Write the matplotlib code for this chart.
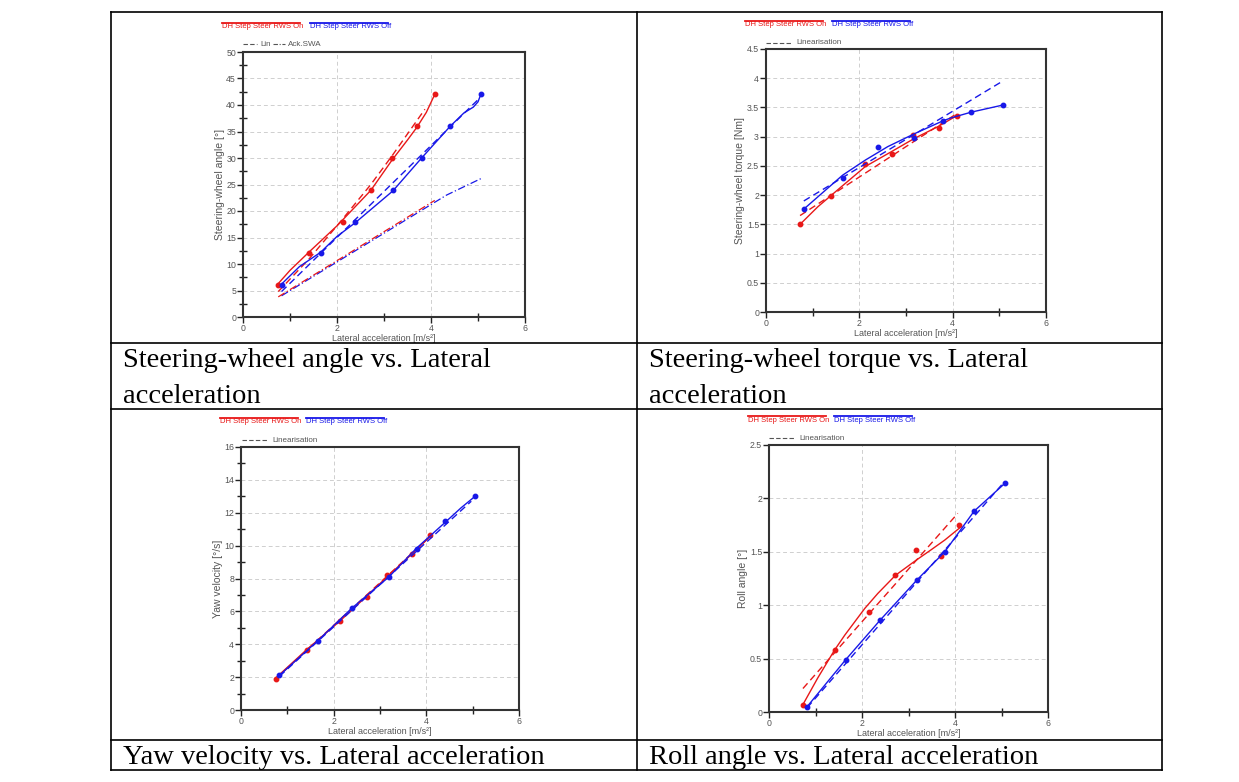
import numpy as np
import matplotlib
matplotlib.use('Agg')
import matplotlib.pyplot as plt
from matplotlib.lines import Line2D
from matplotlib.ticker import MultipleLocator, FormatStrFormatter

W, H = 1239, 782
RED = '#e81818'
BLUE = '#1818e8'

# ---- Steering-wheel angle ----
swa_ay_on = [0.75, 1.41, 2.13, 2.72, 3.17, 3.70, 4.08]
swa_on = [6, 12, 18, 24, 30, 36, 42]
swa_ay_off = [0.82, 1.65, 2.39, 3.19, 3.80, 4.41, 5.06]
swa_off = [6, 12, 18, 24, 30, 36, 42]
swa_fit_x_on = [0.75, 1.0, 1.41, 2.0, 2.72, 3.17, 3.5, 3.70, 3.9, 4.08]
swa_fit_on = [6.3, 8.8, 12.3, 17.2, 23.9, 29.6, 33.4, 35.8, 38.6, 42.0]
swa_fit_x_off = [0.82, 1.2, 1.65, 2.0, 2.39, 3.19, 3.80, 4.41, 4.7, 4.9, 5.0, 5.06]
swa_fit_off = [6.2, 9.5, 12.2, 15.2, 17.8, 23.8, 30.0, 36.0, 38.5, 39.6, 40.6, 42.0]
swa_lin_x_on = [0.75, 1.41, 2.13, 2.72, 3.17, 3.87]
swa_lin_on = [4.8, 11.0, 18.6, 25.0, 30.4, 39.2]
swa_lin_x_off = [0.82, 5.0]
swa_lin_off = [4.8, 41.0]
ack_x_on = [0.75, 4.08]
ack_on = [3.8, 22.0]
ack_x_off = [0.82, 4.33, 5.06]
ack_off = [4.0, 23.0, 26.1]

# ---- Steering-wheel torque ----
swt_ay_on = [0.73, 1.40, 2.13, 2.71, 3.15, 3.70, 4.09]
swt_on = [1.50, 1.98, 2.53, 2.70, 3.03, 3.15, 3.36]
swt_ay_off = [0.81, 1.64, 2.39, 3.18, 3.79, 4.40, 5.07]
swt_off = [1.76, 2.29, 2.83, 2.97, 3.27, 3.42, 3.54]
swt_fit_x_on = [0.73, 1.11, 1.61, 2.13, 2.68, 3.18, 3.68, 4.09]
swt_fit_on = [1.50, 1.80, 2.14, 2.49, 2.74, 2.97, 3.17, 3.36]
swt_fit_x_off = [0.81, 1.64, 2.13, 2.61, 3.18, 3.79, 3.96, 4.40, 5.07]
swt_fit_off = [1.76, 2.34, 2.60, 2.83, 3.05, 3.27, 3.32, 3.42, 3.54]
swt_lin_x_on = [0.73, 4.04]
swt_lin_on = [1.65, 3.37]
swt_lin_x_off = [0.81, 5.07]
swt_lin_off = [1.90, 3.95]

# ---- Yaw velocity ----
yaw_ay_on = [0.75, 1.42, 2.13, 2.71, 3.16, 3.70, 4.08]
yaw_on = [1.91, 3.63, 5.42, 6.90, 8.24, 9.49, 10.65]
yaw_ay_off = [0.83, 1.66, 2.39, 3.19, 3.79, 4.40, 5.06]
yaw_off = [2.11, 4.22, 6.19, 8.09, 9.78, 11.48, 13.02]
yaw_fit_x_on = [0.75, 1.42, 2.13, 2.71, 3.16, 3.70, 4.08]
yaw_fit_on = [1.95, 3.68, 5.40, 6.92, 8.12, 9.52, 10.55]
yaw_fit_x_off = [0.83, 1.66, 2.39, 3.19, 3.79, 4.40, 4.75, 5.06]
yaw_fit_off = [2.11, 4.22, 6.19, 8.09, 9.85, 11.40, 12.30, 13.02]
yaw_lin_x_on = [0.75, 4.08]
yaw_lin_on = [1.90, 10.55]
yaw_lin_x_off = [0.83, 4.97]
yaw_lin_off = [2.05, 12.70]

# ---- Roll angle ----
roll_ay_on = [0.73, 1.41, 2.14, 2.72, 3.16, 3.70, 4.09]
roll_on = [0.07, 0.58, 0.94, 1.28, 1.52, 1.46, 1.75]
roll_ay_off = [0.82, 1.65, 2.39, 3.19, 3.78, 4.41, 5.07]
roll_off = [0.044, 0.49, 0.86, 1.24, 1.50, 1.88, 2.14]
roll_fit_x_on = [0.73, 1.05, 1.41, 1.63, 2.06, 2.34, 2.72, 3.16, 3.49, 3.78, 4.09]
roll_fit_on = [0.07, 0.32, 0.58, 0.72, 0.97, 1.11, 1.28, 1.42, 1.52, 1.61, 1.72]
roll_fit_x_off = [0.82, 1.65, 2.39, 3.19, 3.78, 4.41, 5.07]
roll_fit_off = [0.05, 0.49, 0.86, 1.24, 1.50, 1.88, 2.14]
roll_lin_x_on = [0.73, 4.06]
roll_lin_on = [0.22, 1.86]
roll_lin_x_off = [0.82, 5.05]
roll_lin_off = [0.04, 2.15]

captions = ['Steering-wheel angle vs. Lateral\nacceleration',
            'Steering-wheel torque vs. Lateral\nacceleration',
            'Yaw velocity vs. Lateral acceleration',
            'Roll angle vs. Lateral acceleration']


def fx(x):
    return x / W


def fy(y):
    return 1 - y / H


def hline(fig, x0, x1, y, **kw):
    fig.add_artist(Line2D([fx(x0), fx(x1)], [fy(y), fy(y)], transform=fig.transFigure, **kw))


def vline(fig, x, y0, y1, **kw):
    fig.add_artist(Line2D([fx(x), fx(x)], [fy(y0), fy(y1)], transform=fig.transFigure, **kw))


def make_axes(fig, x0, y0, x1, y1):
    return fig.add_axes([fx(x0), fy(y1), fx(x1 - x0), (y1 - y0) / H])


def style(ax, ymax, ystep, yminor, ylabel):
    ax.set_xlim(0, 6)
    ax.set_ylim(0, ymax)
    ax.xaxis.set_major_locator(MultipleLocator(2))
    ax.xaxis.set_minor_locator(MultipleLocator(1))
    ax.yaxis.set_major_locator(MultipleLocator(ystep))
    ax.yaxis.set_major_formatter(FormatStrFormatter('%g'))
    if yminor:
        ax.yaxis.set_minor_locator(MultipleLocator(yminor))
    ax.grid(True, which='major', color='#cfcfcf', linestyle=(0, (4, 3)), linewidth=0.7)
    ax.tick_params(which='major', direction='out', length=4, width=1, color='#222',
                   labelsize=6.3, labelcolor='#555', pad=1)
    ax.tick_params(which='minor', direction='inout', length=6, width=1, color='#222')
    for s in ax.spines.values():
        s.set_color('#333')
        s.set_linewidth(1.5)
    ax.set_xlabel('Lateral acceleration [m/s²]', fontsize=6.5, color='#555', labelpad=1)
    ax.set_ylabel(ylabel, fontsize=7.5, color='#555', labelpad=1)


def series(ax, px, py, fxs, fys, lx, ly, color):
    ax.plot(fxs, fys, color=color, lw=1.0)
    ax.plot(lx, ly, color=color, lw=1.0, linestyle=(0, (5, 3)))
    ax.plot(px, py, 'o', color=color, markersize=3.2)


def legend(fig, xr, xb, y, xl, yl, second='Linearisation'):
    hline(fig, xr, xr + 78, y - 4, color=RED, lw=1.3)
    fig.text(fx(xr), fy(y), 'DH Step Steer RWS On', color=RED, fontsize=5.5,
             family='Liberation Sans', va='center')
    hline(fig, xb, xb + 78, y - 4, color=BLUE, lw=1.3)
    fig.text(fx(xb), fy(y), 'DH Step Steer RWS Off', color=BLUE, fontsize=5.5,
             family='Liberation Sans', va='center')
    if second is None:
        return
    hline(fig, xl, xl + 26, yl, color='#555', lw=0.8, linestyle=(0, (4, 2)))
    fig.text(fx(xl + 30), fy(yl), second, color='#555', fontsize=5.8,
             family='Liberation Sans', va='center')


plt.rcParams['font.family'] = ['Liberation Sans', 'DejaVu Sans']
fig = plt.figure(figsize=(W / 100, H / 100), dpi=100)

# table frame
for yy in [12, 343, 409, 740, 770]:
    hline(fig, 111, 1162, yy, color='black', lw=1.2)
for xx in [111, 637, 1162]:
    vline(fig, xx, 12, 770, color='black', lw=1.2)

ax1 = make_axes(fig, 243, 52, 525, 317)
style(ax1, 50, 5, 2.5, 'Steering-wheel angle [°]')
series(ax1, swa_ay_on, swa_on, swa_fit_x_on, swa_fit_on, swa_lin_x_on, swa_lin_on, RED)
series(ax1, swa_ay_off, swa_off, swa_fit_x_off, swa_fit_off, swa_lin_x_off, swa_lin_off, BLUE)
ax1.plot(ack_x_off, ack_off, color=BLUE, lw=0.9, linestyle=(0, (6, 2, 1, 2)))
ax1.plot(ack_x_on, ack_on, color=RED, lw=0.9, linestyle=(0, (6, 2, 1, 2)))

ax2 = make_axes(fig, 766, 49, 1046, 312)
style(ax2, 4.5, 0.5, None, 'Steering-wheel torque [Nm]')
series(ax2, swt_ay_on, swt_on, swt_fit_x_on, swt_fit_on, swt_lin_x_on, swt_lin_on, RED)
series(ax2, swt_ay_off, swt_off, swt_fit_x_off, swt_fit_off, swt_lin_x_off, swt_lin_off, BLUE)

ax3 = make_axes(fig, 241, 447, 519, 710)
style(ax3, 16, 2, 1, 'Yaw velocity [°/s]')
series(ax3, yaw_ay_on, yaw_on, yaw_fit_x_on, yaw_fit_on, yaw_lin_x_on, yaw_lin_on, RED)
series(ax3, yaw_ay_off, yaw_off, yaw_fit_x_off, yaw_fit_off, yaw_lin_x_off, yaw_lin_off, BLUE)

ax4 = make_axes(fig, 769, 445, 1048, 712)
style(ax4, 2.5, 0.5, None, 'Roll angle [°]')
series(ax4, roll_ay_on, roll_on, roll_fit_x_on, roll_fit_on, roll_lin_x_on, roll_lin_on, RED)
series(ax4, roll_ay_off, roll_off, roll_fit_x_off, roll_fit_off, roll_lin_x_off, roll_lin_off, BLUE)

# legends above each chart
legend(fig, 222, 310, 27, 243, 44, None)
hline(fig, 243, 257, 44, color='#555', lw=0.8, linestyle=(0, (4, 2)))
fig.text(fx(260), fy(44), 'Lin', color='#555', fontsize=5.8, va='center')
hline(fig, 273, 285, 44, color='#555', lw=0.8, linestyle=(0, (4, 1.5, 1, 1.5)))
fig.text(fx(288), fy(44), 'Ack.SWA', color='#555', fontsize=5.8, va='center')
legend(fig, 745, 832, 25, 766, 43)
legend(fig, 220, 306, 422, 242, 440)
legend(fig, 748, 834, 420, 769, 438)

# captions
cap_font = dict(family='Liberation Serif', fontsize=20.5, color='black', va='baseline')
fig.text(fx(123), fy(367), captions[0].split('\n')[0], **cap_font)
fig.text(fx(123), fy(403), captions[0].split('\n')[1], **cap_font)
fig.text(fx(649), fy(367), captions[1].split('\n')[0], **cap_font)
fig.text(fx(649), fy(403), captions[1].split('\n')[1], **cap_font)
fig.text(fx(123), fy(764), captions[2], **cap_font)
fig.text(fx(649), fy(764), captions[3], **cap_font)

fig.savefig('out.png', dpi=100)
